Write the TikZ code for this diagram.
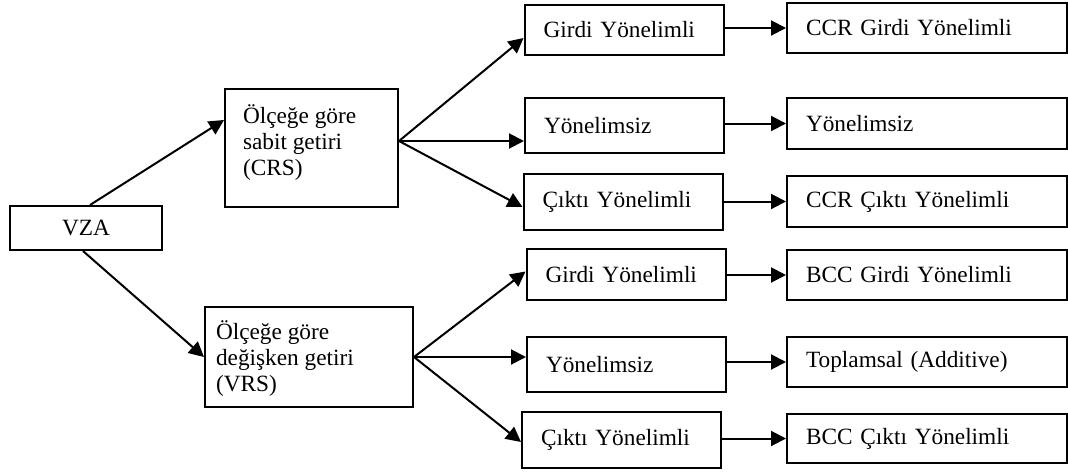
\documentclass[tikz,border=0pt]{standalone}
\usepackage{fontspec}
\setmainfont{Liberation Serif}
\usetikzlibrary{arrows.meta}

\tikzset{
  box/.style={draw, line width=1pt, font=\fontsize{11.65}{13}\selectfont},
  midbox/.style={box, text width=80.5pt, inner xsep=9.5pt, align=left, minimum height=#1},
  endbox/.style={box, text width=121pt, inner xsep=9.5pt, align=left, minimum height=#1},
  boxtext/.style={anchor=north west, inner sep=0pt, align=left, font=\fontsize{11.65}{13}\selectfont},
}

\begin{document}
\begin{tikzpicture}[x=0.5pt, y=-0.5pt, >={Triangle[length=7.5pt,width=7.5pt]}, line width=1pt]
  \useasboundingbox (0,0) rectangle (1068,471);

  % root
  \node [box, minimum width=76pt, minimum height=22pt] (vza) at (86,228) {VZA};

  % returns to scale
  \node [box, minimum width=86.5pt, minimum height=59pt] (crs) at (311.5,148) {};
  \node [boxtext] (crs-text) at ([shift={(18,16)}]crs.north west) {Ölçeğe göre\\sabit getiri\\(CRS)};
  \node [box, minimum width=104pt, minimum height=50pt] (vrs) at (309,357) {};
  \node [boxtext] (vrs-text) at ([shift={(11,14)}]vrs.north west) {Ölçeğe göre\\değişken getiri\\(VRS)};

  % orientation
  \node [midbox=25pt]   (crs-girdi) at (624,30)      {Girdi Yönelimli};
  \node [midbox=27.5pt] (crs-yon)   at (624.5,125.5) {Yönelimsiz};
  \node [midbox=28pt]   (crs-cikti) at (623,202)     {Çıktı Yönelimli};
  \node [midbox=25.5pt] (vrs-girdi) at (626,274.5)   {Girdi Yönelimli};
  \node [midbox=27.5pt] (vrs-yon)   at (626.5,364.5) {Yönelimsiz};
  \node [midbox=28pt]   (vrs-cikti) at (621.5,440)   {Çıktı Yönelimli};

  % models
  \node [endbox=25pt]   (ccr-girdi) at (927,28)    {CCR Girdi Yönelimli};
  \node [endbox=25.5pt] (ccr-yon)   at (927,123.5) {Yönelimsiz};
  \node [endbox=25.5pt] (ccr-cikti) at (927,201.5) {CCR Çıktı Yönelimli};
  \node [endbox=25pt]   (bcc-girdi) at (927,275)   {BCC Girdi Yönelimli};
  \node [endbox=25pt]   (additive)  at (927,362)   {Toplamsal (Additive)};
  \node [endbox=24.5pt] (bcc-cikti) at (927,438.5) {BCC Çıktı Yönelimli};

  \draw [->] ([xshift=2pt]vza.north) -- ([yshift=14pt]crs.west);
  \draw [->] ([xshift=-1.5pt]vza.south) -- (vrs.west);

  \coordinate (crs-fan) at ([yshift=3.5pt]crs.east);
  \draw [->] (crs-fan) -- ([yshift=-4pt]crs-girdi.west);
  \draw [->] (crs-fan) -- (crs-yon.west |- crs-fan);
  \draw [->] (crs-fan) -- ([yshift=-2.5pt]crs-cikti.west);

  \draw [->] (vrs.east) -- ([yshift=1.5pt]vrs-girdi.west);
  \draw [->] (vrs.east) -- (vrs-yon.west |- vrs.east);
  \draw [->] (vrs.east) -- ([yshift=-1pt]vrs-cikti.west);

  \foreach \a/\b in {crs-girdi/ccr-girdi, crs-yon/ccr-yon, crs-cikti/ccr-cikti,
                     vrs-girdi/bcc-girdi, vrs-yon/additive, vrs-cikti/bcc-cikti}
    \draw [->] (\a.east |- \b.west) -- (\b.west);
\end{tikzpicture}
\end{document}
